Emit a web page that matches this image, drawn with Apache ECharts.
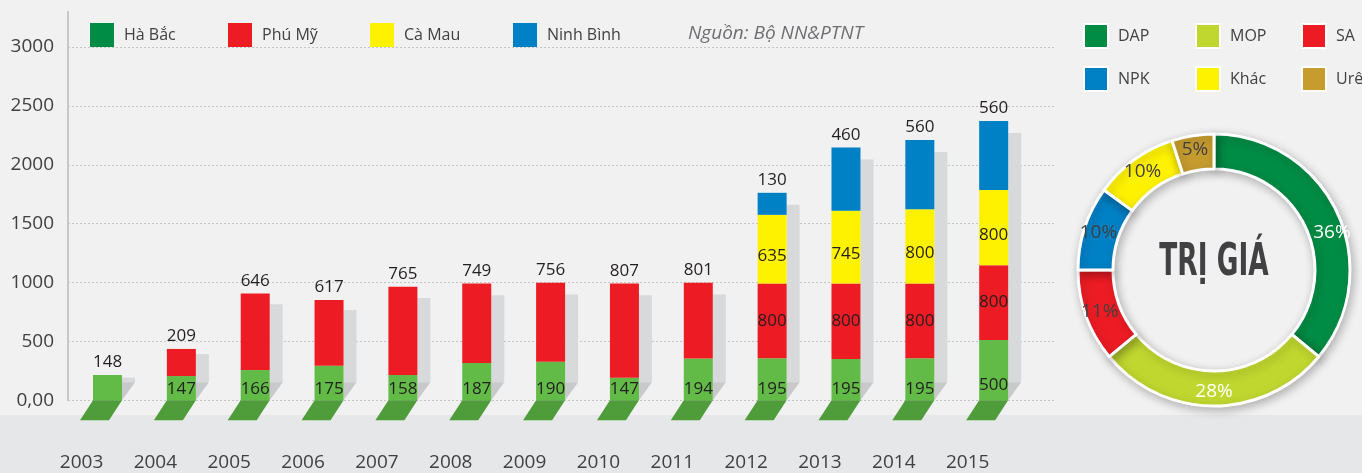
<!DOCTYPE html>
<html>
<head>
<meta charset="utf-8">
<title>Phân bón</title>
<script src="https://cdn.jsdelivr.net/npm/echarts@6.0.0/dist/echarts.min.js"></script>
<style>
html,body{margin:0;padding:0;background:#f1f1f1;}
#main{width:1362px;height:473px;}
</style>
</head>
<body>
<div id="main"></div>
<script>
var years = ['2003','2004','2005','2006','2007','2008','2009','2010','2011','2012','2013','2014','2015'];

// bar heights as drawn in the graphic (the infographic is not to scale with its numbers)
var haBac    = [215,206,257,294,215,317,328,192,354,357,351,357,512];
var phuMy    = [null,230,649,558,750,674,671,799,645,634,640,634,635];
var caMau    = [null,null,null,null,null,null,null,null,null,584,618,632,638];
var ninhBinh = [null,null,null,null,null,null,null,null,null,187,538,587,586];

// numbers printed on the bars
var haBacText    = [148,147,166,175,158,187,190,147,194,195,195,195,500];
var phuMyText    = [null,209,646,617,765,749,756,807,801,800,800,800,800];
var caMauText    = [null,null,null,null,null,null,null,null,null,635,745,800,800];
var ninhBinhText = [null,null,null,null,null,null,null,null,null,130,460,560,560];

var yMax = 3300, yStep = 500;

var fertNames = ['DAP','MOP','SA','NPK','Khác','Urê'];
var fertShare = [36,28,11,10,10,5];
var fertColors = ['#008c44','#c0d72f','#ed1c24','#0081c6','#fff200','#c69c2f'];
var fertLabelColors = ['#fff','#fff','#414042','#414042','#414042','#414042'];

var FONT = 'Open Sans';
var stacks = [haBac, phuMy, caMau, ninhBinh];

function isTop(s, i){
	for (var k = s + 1; k < stacks.length; k++) {
		if (stacks[k][i] != null) return false;
	}
	return true;
}

function barData(s, texts){
	var out = [];
	for (var i = 0; i < years.length; i++) {
		var v = stacks[s][i];
		if (v == null) { out.push('-'); continue; }
		var lbl = {show:true, formatter:String(texts[i]), fontSize:17, color:'#231f20', fontFamily:FONT};
		if (isTop(s, i)) {
			lbl.position = 'top';
			lbl.distance = 4;
		} else if (s == 0) {
			lbl.position = 'insideBottom';
			lbl.distance = i == years.length - 1 ? 7 : 3;
		} else {
			lbl.position = 'inside';
			if (s == 2) lbl.offset = [0, 7];
		}
		out.push({value:v, label:lbl});
	}
	return out;
}

var totals = [];
for (var i = 0; i < years.length; i++) {
	var t = 0;
	for (var k = 0; k < stacks.length; k++) t += stacks[k][i] || 0;
	totals.push([i, t]);
}

function renderShadow(params, api){
	var base = api.coord([api.value(0), 0]);
	var top = api.coord([api.value(0), api.value(1)]);
	var r = base[0] + 14.5, w = 13, h = 18;
	var dy = Math.min(12, (base[1] - top[1]) * 0.1);
	return {type:'group', children:[
		{type:'polygon', shape:{points:[[r, top[1] + dy],[r + w, top[1] + dy],[r + w, base[1] - h],[r, base[1] - h]]}, style:{fill:'#d8d9db'}},
		{type:'polygon', shape:{points:[[r, base[1] - h],[r + w, base[1] - h],[r, base[1]]]}, style:{fill:'#c8c9cb'}}
	]};
}

function renderFloor(params, api){
	var p = api.coord([api.value(0), 0]);
	var hw = 14.5, slant = 13, depth = 20;
	return {type:'polygon', shape:{points:[[p[0] - hw, p[1]],[p[0] + hw, p[1]],[p[0] + hw - slant, p[1] + depth],[p[0] - hw - slant, p[1] + depth]]}, style:{fill:'#4f9c3b'}};
}

var pieData = [];
for (var j = 0; j < fertNames.length; j++) {
	var item = {name:fertNames[j], value:fertShare[j], itemStyle:{color:fertColors[j]}, label:{color:fertLabelColors[j]}};
	if (j == 0) item.label.offset = [8, 14];
	pieData.push(item);
}

// one legend box per entry so each swatch sits where the original puts it
function legendItem(name, left, top){
	return {left:left, top:top, padding:0, itemWidth:24, itemHeight:24, icon:'rect',
		textStyle:{fontSize:16, color:'#414042', fontFamily:FONT, padding:[0,0,0,5]},
		data:[name]};
}

var legends = [
	legendItem({name:'Hà Bắc', itemStyle:{color:'#008c44'}}, 90, 23),
	legendItem('Phú Mỹ', 228, 23),
	legendItem('Cà Mau', 370, 23),
	legendItem('Ninh Bình', 513, 23),
	legendItem('DAP', 1083, 23),
	legendItem('MOP', 1195, 23),
	legendItem('SA', 1301, 23),
	legendItem('NPK', 1083, 66),
	legendItem('Khác', 1195, 66),
	legendItem('Urê', 1301, 66)
];

var option = {
	backgroundColor:'#f1f1f1',
	animation:false,
	graphic:[
		{type:'rect', z:-10, shape:{x:0, y:415, width:1362, height:58}, style:{fill:'#e6e7e8'}},
		{type:'text', x:688, y:34, style:{text:'Nguồn: Bộ NN&PTNT', fontSize:19, fontStyle:'italic', fontFamily:FONT, fill:'#6d6e71', align:'left', verticalAlign:'middle'}},
		{type:'text', x:1214, y:264, scaleX:0.6, z:100, style:{text:'TRỊ GIÁ', fontSize:44, fontWeight:'bold', fontFamily:'DejaVu Sans', fill:'#414042', align:'center', verticalAlign:'middle'}}
	],
	legend:legends,
	grid:[
		{left:68, right:307, top:11.7, bottom:72.7},
		{left:70.6, right:331.4, top:11.7, bottom:72.7}
	],
	xAxis:[
		{gridIndex:0, type:'value', show:false, min:0, max:1},
		{gridIndex:1, type:'category', data:years, axisLine:{show:false}, axisTick:{show:false},
		 axisLabel:{interval:0, margin:53, formatter:function(v){ return '{y|' + v + '}'; },
			rich:{y:{fontSize:19, color:'#414042', fontFamily:FONT, padding:[0,52,0,0]}}}}
	],
	yAxis:[
		{gridIndex:0, type:'value', min:0, max:yMax, interval:yStep,
		 axisLine:{show:true, lineStyle:{color:'#c8c8c8', width:2}}, axisTick:{show:false},
		 axisLabel:{showMaxLabel:false, margin:14, fontSize:19, color:'#414042', fontFamily:FONT,
			formatter:function(v){ return v == 0 ? '0,00' : String(v); }},
		 splitLine:{show:true, showMaxLine:false, lineStyle:{type:[2,2], color:'#c4c4c4', width:1}}},
		{gridIndex:1, type:'value', min:0, max:yMax, interval:yStep, show:false, splitLine:{show:false}}
	],
	series:[
		{type:'custom', name:'shadow', xAxisIndex:1, yAxisIndex:1, clip:false, silent:true, z:1, renderItem:renderShadow, data:totals},
		{type:'bar', name:'Hà Bắc', stack:'t', xAxisIndex:1, yAxisIndex:1, barWidth:29, z:2, itemStyle:{color:'#62bb47'}, data:barData(0, haBacText)},
		{type:'bar', name:'Phú Mỹ', stack:'t', xAxisIndex:1, yAxisIndex:1, barWidth:29, z:2, itemStyle:{color:'#ed1c24'}, data:barData(1, phuMyText)},
		{type:'bar', name:'Cà Mau', stack:'t', xAxisIndex:1, yAxisIndex:1, barWidth:29, z:2, itemStyle:{color:'#fff200'}, data:barData(2, caMauText)},
		{type:'bar', name:'Ninh Bình', stack:'t', xAxisIndex:1, yAxisIndex:1, barWidth:29, z:2, itemStyle:{color:'#0081c6'}, data:barData(3, ninhBinhText)},
		{type:'custom', name:'floor', xAxisIndex:1, yAxisIndex:1, clip:false, silent:true, z:3, renderItem:renderFloor, data:totals},
		{type:'pie', name:'Trị giá', center:[1214, 270], radius:[101, 136], startAngle:90, silent:true, z:5,
		 label:{show:true, position:'inside', formatter:'{c}%', fontSize:19, fontFamily:FONT},
		 labelLine:{show:false},
		 itemStyle:{borderColor:'#fff', borderWidth:3, shadowBlur:10, shadowOffsetX:2, shadowOffsetY:3, shadowColor:'rgba(0,0,0,0.25)'},
		 data:pieData}
	]
};

window.onload = function(){
	var chart = echarts.init(document.getElementById('main'));
	chart.setOption(option);
};
</script>
</body>
</html>
